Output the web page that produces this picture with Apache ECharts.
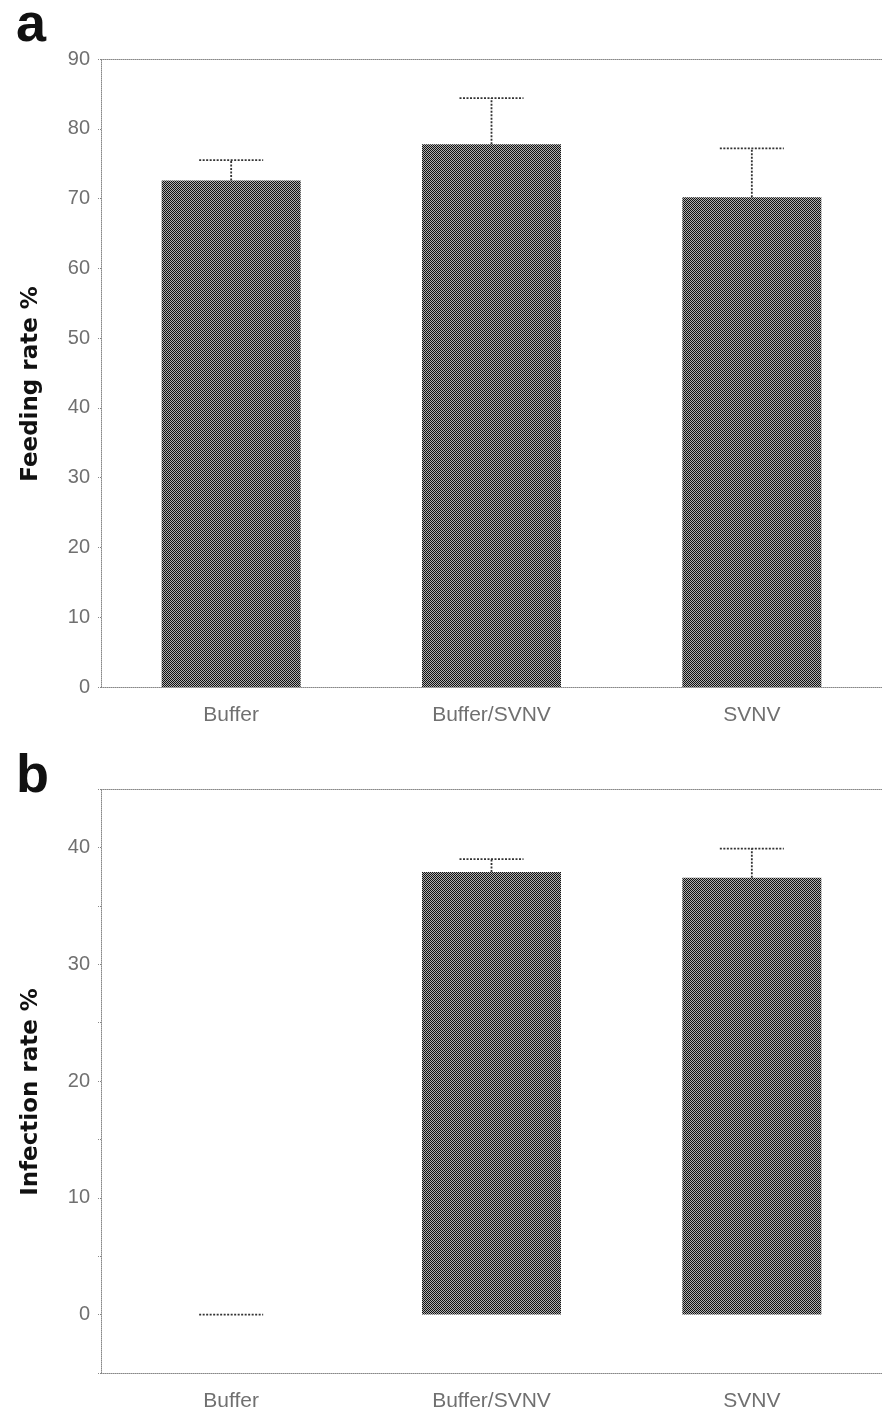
<!DOCTYPE html>
<html>
<head>
<meta charset="utf-8">
<script src="https://cdn.jsdelivr.net/npm/echarts@6/dist/echarts.min.js"></script>
<style>
html,body{margin:0;padding:0;background:#fff;}
#chart{width:882px;height:1412px;}
</style>
</head>
<body>
<div id="chart"></div>
<script>
const categories = ['Buffer', 'Buffer/SVNV', 'SVNV'];
const feedingMean = [72.6, 77.8, 70.2];
const feedingErr = [2.9, 6.6, 7.0];
const infectionMean = [0, 37.9, 37.4];
const infectionErr = [0, 1.1, 2.5];
const feedingTitle = 'Feeding rate %';
const infectionTitle = 'Infection rate %';

// checker pattern fill
const pc = document.createElement('canvas');
pc.width = 2; pc.height = 2;
const pctx = pc.getContext('2d');
pctx.fillStyle = '#b0b0b0'; pctx.fillRect(0, 0, 2, 2);
pctx.fillStyle = '#111111'; pctx.fillRect(0, 0, 1, 1); pctx.fillRect(1, 1, 1, 1);
const barFill = { image: pc, repeat: 'repeat' };

const axisColor = '#888';
const labelColor = '#707070';
const tickFont = 'Liberation Sans';

function errRender(params, api) {
  const x = api.value(0), m = api.value(1), e = api.value(2);
  const base = api.coord([x, m]);
  const top = api.coord([x, m + e]);
  const hw = 32;
  const st = { stroke: '#333', lineWidth: 1.8, lineDash: [2, 1.5], fill: null };
  const kids = [];
  if (e > 0) kids.push({ type: 'line', shape: { x1: base[0], y1: base[1], x2: top[0], y2: top[1] }, style: st });
  kids.push({ type: 'line', shape: { x1: top[0] - hw, y1: top[1], x2: top[0] + hw, y2: top[1] }, style: st });
  return { type: 'group', children: kids };
}

function catAxis(gi) {
  return {
    type: 'category', gridIndex: gi, data: categories,
    axisLine: { onZero: false, lineStyle: { color: axisColor, type: 'dotted', width: 1 } },
    axisTick: { show: false },
    axisLabel: { color: labelColor, fontSize: 21, fontFamily: tickFont, margin: 18 }
  };
}
function topAxis(gi) {
  return {
    type: 'category', gridIndex: gi, data: categories, position: 'top',
    axisLine: { onZero: false, lineStyle: { color: axisColor, type: 'dotted', width: 1 } },
    axisTick: { show: false }, axisLabel: { show: false }
  };
}

const letterStyle = { fontSize: 54, fontWeight: 'bold', fontFamily: 'Liberation Sans', color: '#111' };

const option = {
  animation: false,
  backgroundColor: '#fff',
  title: [
    { text: 'a', left: 11, top: -6, textStyle: letterStyle },
    { text: 'b', left: 11, top: 745, textStyle: letterStyle }
  ],
  grid: [
    { left: 101, top: 59, width: 790, height: 628 },
    { left: 101, top: 789, width: 790, height: 584 }
  ],
  xAxis: [catAxis(0), catAxis(1), topAxis(0), topAxis(1)],
  yAxis: [
    {
      type: 'value', gridIndex: 0, min: 0, max: 90, interval: 10,
      name: feedingTitle, nameLocation: 'middle', nameGap: 58,
      nameTextStyle: { fontSize: 23, fontWeight: 'bold', fontFamily: 'DejaVu Sans', color: '#111', padding: [0, 22, 0, 0] },
      axisLine: { show: true, lineStyle: { color: axisColor, type: 'dotted' } },
      axisTick: { show: true, length: 4, lineStyle: { color: axisColor, type: 'dotted' } },
      axisLabel: { color: labelColor, fontSize: 20, fontFamily: tickFont, margin: 11 },
      splitLine: { show: false }
    },
    {
      type: 'value', gridIndex: 1, min: -5, max: 45, interval: 5,
      name: infectionTitle, nameLocation: 'middle', nameGap: 58,
      nameTextStyle: { fontSize: 23, fontWeight: 'bold', fontFamily: 'DejaVu Sans', color: '#111', padding: [0, 22, 0, 0] },
      axisLine: { show: true, lineStyle: { color: axisColor, type: 'dotted' } },
      axisTick: { show: true, length: 4, lineStyle: { color: axisColor, type: 'dotted' } },
      axisLabel: {
        color: labelColor, fontSize: 20, fontFamily: tickFont, margin: 11,
        formatter: v => (v % 10 === 0 ? String(v) : '')
      },
      splitLine: { show: false }
    }
  ],
  series: [
    {
      type: 'bar', xAxisIndex: 0, yAxisIndex: 0, data: feedingMean, barWidth: 139,
      itemStyle: { color: barFill }, z: 2
    },
    {
      type: 'custom', xAxisIndex: 0, yAxisIndex: 0, renderItem: errRender, z: 3,
      data: feedingMean.map((m, i) => [i, m, feedingErr[i]])
    },
    {
      type: 'bar', xAxisIndex: 1, yAxisIndex: 1, data: infectionMean, barWidth: 139,
      itemStyle: { color: barFill }, z: 2
    },
    {
      type: 'custom', xAxisIndex: 1, yAxisIndex: 1, renderItem: errRender, z: 3,
      data: infectionMean.map((m, i) => [i, m, infectionErr[i]])
    }
  ]
};

const chart = echarts.init(document.getElementById('chart'), null, { renderer: 'canvas' });
chart.setOption(option);
</script>
</body>
</html>
